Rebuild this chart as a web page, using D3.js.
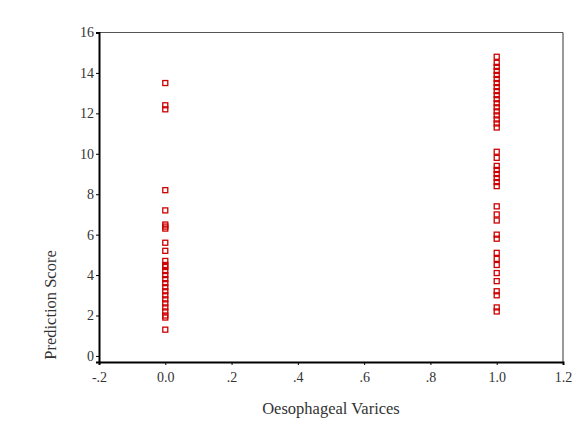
<!DOCTYPE html>
<html>
<head>
<meta charset="utf-8">
<script src="https://cdn.jsdelivr.net/npm/d3@7"></script>
<style>
  body { margin: 0; background: #fff; }
  text { font-family: "Liberation Serif", "DejaVu Serif", serif; fill: #333; }
</style>
</head>
<body>
<div id="chart"></div>
<script>
// categories on the x axis
var groups = [0, 1];
// prediction scores, one list per group
var scoresNo = [13.5, 12.4, 12.2, 8.2, 7.2, 6.5, 6.4, 6.3, 5.6, 5.2, 4.7, 4.5, 4.4, 4.2, 4.0,
    3.8, 3.6, 3.4, 3.2, 3.0, 2.8, 2.6, 2.4, 2.2, 2.0, 1.9, 1.3];
var scoresYes = [14.8, 14.5, 14.3, 14.1, 13.9, 13.7, 13.5, 13.3, 13.1, 12.9, 12.7, 12.5, 12.3,
    12.1, 11.9, 11.7, 11.5, 11.3, 10.1, 9.8, 9.4, 9.2, 9.0, 8.8, 8.6, 8.4, 7.4, 7.0, 6.7,
    6.0, 5.8, 5.1, 4.8, 4.5, 4.1, 3.7, 3.2, 3.0, 2.4, 2.2];
var xTicks = [-0.2, 0, 0.2, 0.4, 0.6, 0.8, 1.0, 1.2];
var xTickLabels = ["-.2", "0.0", ".2", ".4", ".6", ".8", "1.0", "1.2"];
var yTicks = [0, 2, 4, 6, 8, 10, 12, 14, 16];

var data = [];
scoresNo.forEach(function (v) { data.push({ x: groups[0], y: v }); });
scoresYes.forEach(function (v) { data.push({ x: groups[1], y: v }); });

var width = 583, height = 427;
var margin = { left: 99, right: 563, top: 32.5, bottom: 362 };

var svg = d3.select("#chart")
    .append("svg")
    .attr("width", width)
    .attr("height", height);

var x = d3.scaleLinear()
    .domain([-0.2, 1.2])
    .range([margin.left, margin.right]);

var y = d3.scaleLinear()
    .domain([-0.3, 16])
    .range([margin.bottom, margin.top]);

// frame lines on top and right
svg.append("line")
    .attr("x1", margin.left).attr("x2", margin.right)
    .attr("y1", margin.top).attr("y2", margin.top)
    .attr("stroke", "#555").attr("stroke-width", 1.2);
svg.append("line")
    .attr("x1", margin.right).attr("x2", margin.right)
    .attr("y1", margin.top).attr("y2", margin.bottom)
    .attr("stroke", "#555").attr("stroke-width", 1.2);

// X axis
var xAxis = svg.append("g")
    .attr("transform", "translate(0," + margin.bottom + ")")
    .call(d3.axisBottom(x)
        .tickValues(xTicks)
        .tickSize(3)
        .tickPadding(7)
        .tickFormat(function (d, i) { return xTickLabels[i]; }));
xAxis.select(".domain").attr("stroke", "#000").attr("stroke-width", 2);
xAxis.selectAll("text").attr("font-size", 14);

// Y axis
var yAxis = svg.append("g")
    .attr("transform", "translate(" + margin.left + ",0)")
    .call(d3.axisLeft(y)
        .tickValues(yTicks)
        .tickSize(3)
        .tickPadding(2)
        .tickFormat(d3.format("d")));
yAxis.select(".domain").attr("stroke", "#000").attr("stroke-width", 2);
yAxis.selectAll("text").attr("font-size", 14);

// axis titles
svg.append("text")
    .attr("text-anchor", "middle")
    .attr("x", 331)
    .attr("y", 414)
    .attr("font-size", 16.5)
    .text("Oesophageal Varices");
svg.append("text")
    .attr("text-anchor", "middle")
    .attr("transform", "translate(56,305) rotate(-90)")
    .attr("font-size", 16.5)
    .text("Prediction Score");

// points
svg.append("g")
    .selectAll("rect")
    .data(data)
    .enter()
    .append("rect")
    .attr("x", function (d) { return x(d.x) - 2.5; })
    .attr("y", function (d) { return y(d.y) - 2.5; })
    .attr("width", 5)
    .attr("height", 5)
    .attr("fill", "none")
    .attr("stroke", "#cc0000")
    .attr("stroke-width", 1.3);
</script>
</body>
</html>
